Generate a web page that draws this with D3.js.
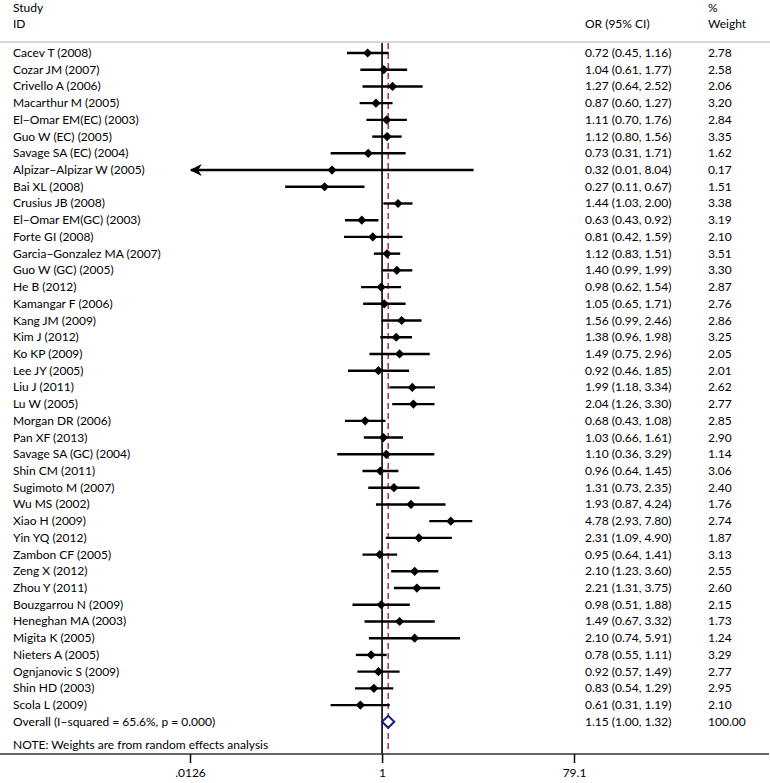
<!DOCTYPE html>
<html><head><meta charset="utf-8">
<script src="https://cdn.jsdelivr.net/npm/d3@7"></script>
<style>body{margin:0;background:#fff}text{font-family:Lato,"Open Sans",sans-serif;font-size:12px;fill:#000}</style>
</head><body><svg id="c" width="770" height="783"></svg>
<script>
const studies=["Cacev T (2008)","Cozar JM (2007)","Crivello A (2006)","Macarthur M (2005)","El\u2212Omar EM(EC) (2003)","Guo W (EC) (2005)","Savage SA (EC) (2004)","Alpizar\u2212Alpizar W (2005)","Bai XL (2008)","Crusius JB (2008)","El\u2212Omar EM(GC) (2003)","Forte GI (2008)","Garcia\u2212Gonzalez MA (2007)","Guo W (GC) (2005)","He B (2012)","Kamangar F (2006)","Kang JM (2009)","Kim J (2012)","Ko KP (2009)","Lee JY (2005)","Liu J (2011)","Lu W (2005)","Morgan DR (2006)","Pan XF (2013)","Savage SA (GC) (2004)","Shin CM (2011)","Sugimoto M (2007)","Wu MS (2002)","Xiao H (2009)","Yin YQ (2012)","Zambon CF (2005)","Zeng X (2012)","Zhou Y (2011)","Bouzgarrou N (2009)","Heneghan MA (2003)","Migita K (2005)","Nieters A (2005)","Ognjanovic S (2009)","Shin HD (2003)","Scola L (2009)"];
const or=[0.72,1.04,1.27,0.87,1.11,1.12,0.73,0.32,0.27,1.44,0.63,0.81,1.12,1.40,0.98,1.05,1.56,1.38,1.49,0.92,1.99,2.04,0.68,1.03,1.10,0.96,1.31,1.93,4.78,2.31,0.95,2.10,2.21,0.98,1.49,2.10,0.78,0.92,0.83,0.61];
const lo=[0.45,0.61,0.64,0.60,0.70,0.80,0.31,0.01,0.11,1.03,0.43,0.42,0.83,0.99,0.62,0.65,0.99,0.96,0.75,0.46,1.18,1.26,0.43,0.66,0.36,0.64,0.73,0.87,2.93,1.09,0.64,1.23,1.31,0.51,0.67,0.74,0.55,0.57,0.54,0.31];
const hi=[1.16,1.77,2.52,1.27,1.76,1.56,1.71,8.04,0.67,2.00,0.92,1.59,1.51,1.99,1.54,1.71,2.46,1.98,2.96,1.85,3.34,3.30,1.08,1.61,3.29,1.45,2.35,4.24,7.80,4.90,1.41,3.60,3.75,1.88,3.32,5.91,1.11,1.49,1.29,1.19];
const weights=[2.78,2.58,2.06,3.20,2.84,3.35,1.62,0.17,1.51,3.38,3.19,2.10,3.51,3.30,2.87,2.76,2.86,3.25,2.05,2.01,2.62,2.77,2.85,2.90,1.14,3.06,2.40,1.76,2.74,1.87,3.13,2.55,2.60,2.15,1.73,1.24,3.29,2.77,2.95,2.10];
const overall={label:"Overall  (I\u2212squared = 65.6%, p = 0.000)",or:1.15,lo:1.00,hi:1.32,w:"100.00"};
const tickVals=[0.0126,1,79.1];
const tickLabels=[".0126","1","79.1"];

const svg=d3.select("#c");
const x=d3.scaleLog().domain([0.0126,79.1]).range([190,574]);
const y0=53, dy=16.72;
const yr=i=>y0+i*dy;
const f2=d3.format(".2f");

// header
svg.append("text").attr("x",13).attr("y",12).text("Study");
svg.append("text").attr("x",13).attr("y",28).text("ID");
svg.append("text").attr("x",585).attr("y",28).text("OR (95% CI)");
svg.append("text").attr("x",708).attr("y",12).text("%");
svg.append("text").attr("x",708).attr("y",28).text("Weight");
svg.append("line").attr("x1",0).attr("x2",770).attr("y1",42).attr("y2",42).attr("stroke","#c8c8c8").attr("stroke-width",1.5);

const nRows=studies.length;
const yOverall=yr(nRows);
const yAxis=754;

svg.append("line").attr("x1",x(1)).attr("x2",x(1)).attr("y1",43).attr("y2",yAxis).attr("stroke","#000").attr("stroke-width",1.6);
svg.append("line").attr("x1",x(overall.or)).attr("x2",x(overall.or)).attr("y1",43).attr("y2",yAxis).attr("stroke","#b0303a").attr("stroke-width",1.5).attr("stroke-dasharray","6,4");

svg.append("defs").append("marker").attr("id","arr").attr("viewBox","0 0 10 10").attr("refX",9).attr("refY",5)
 .attr("markerWidth",5).attr("markerHeight",5).attr("orient","auto").attr("markerUnits","strokeWidth")
 .append("path").attr("d","M0,0 L10,5 L0,10 L3,5 Z").attr("fill","#000");

const g=svg.append("g");
studies.forEach((s,i)=>{
  const yy=yr(i);
  g.append("text").attr("x",13).attr("y",yy+4).text(s);
  const l=Math.max(lo[i],0.0126), h=Math.min(hi[i],79.1);
  const ln=g.append("line").attr("x1",x(l)).attr("x2",x(h)).attr("y1",yy).attr("y2",yy).attr("stroke","#000").attr("stroke-width",2.4);
  if(lo[i]<0.0126) ln.attr("x1",x(h)).attr("x2",x(l)+1).attr("marker-end","url(#arr)");
  const cx=x(or[i]), r=4.6;
  g.append("path").attr("d",`M${cx},${yy-r} L${cx+r},${yy} L${cx},${yy+r} L${cx-r},${yy} Z`).attr("fill","#000");
  g.append("text").attr("x",585).attr("y",yy+4).text(`${f2(or[i])} (${f2(lo[i])}, ${f2(hi[i])})`);
  g.append("text").attr("x",708).attr("y",yy+4).text(f2(weights[i]));
});
g.append("text").attr("x",13).attr("y",yOverall+4).text(overall.label);
g.append("path").attr("d",`M${x(overall.lo)},${yOverall} L${x(overall.or)},${yOverall-6} L${x(overall.hi)},${yOverall} L${x(overall.or)},${yOverall+6} Z`)
 .attr("fill","#fff").attr("stroke","#1a1a80").attr("stroke-width",2);
g.append("text").attr("x",585).attr("y",yOverall+4).text(`${f2(overall.or)} (${f2(overall.lo)}, ${f2(overall.hi)})`);
g.append("text").attr("x",708).attr("y",yOverall+4).text(overall.w);
svg.append("text").attr("x",13).attr("y",749).text("NOTE: Weights are from random effects analysis");

svg.append("line").attr("x1",0).attr("x2",769).attr("y1",yAxis).attr("y2",yAxis).attr("stroke","#333").attr("stroke-width",1.5);
const ax=svg.append("g").attr("transform",`translate(0,${yAxis})`)
 .call(d3.axisBottom(x).tickValues(tickVals).tickFormat((d,i)=>tickLabels[i]).tickSize(9).tickPadding(5));
ax.select(".domain").remove();
ax.selectAll(".tick line").attr("stroke","#000").attr("stroke-width",1.5);
ax.selectAll(".tick text").style("font-family","Lato,'Open Sans',sans-serif").style("font-size","12px").attr("fill","#000");
</script></body></html>
